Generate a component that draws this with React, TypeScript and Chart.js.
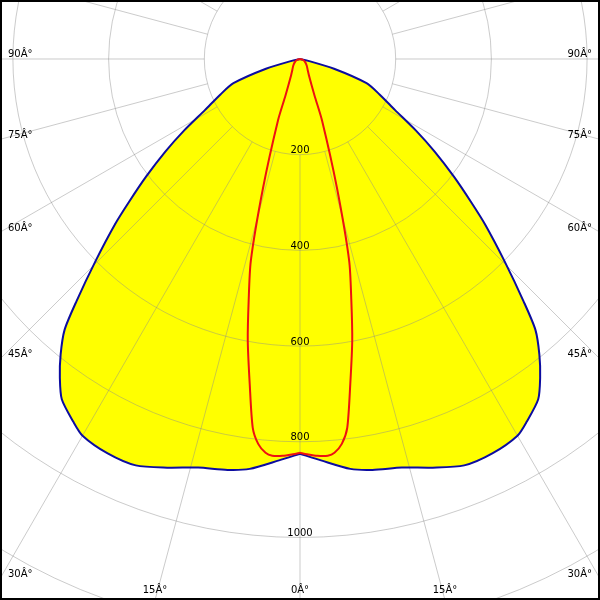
import React, { useEffect, useRef } from "react";
import { Chart, registerables } from "chart.js";

Chart.register(...registerables);

// Photometric data (angle from nadir in degrees, intensity in cd/klm)
const blueAngles = [0, 3, 7, 10, 14, 18, 22, 26, 30, 32, 35, 37, 39, 41, 42.7, 45.3, 48.2, 50.1, 52.6, 55.5, 58.3, 61.8, 66, 70, 74, 78, 80, 90];
const blueValues = [825, 840, 863, 872, 880, 898, 916, 917, 909, 894, 868, 834, 795, 750, 689, 602, 519, 466, 405, 341, 285, 225, 182, 148, 74, 16, 0, 0];

const redAngles = [0, 1, 2.5, 4, 5, 6.2, 7.3, 8.8, 10.5, 12, 13.7, 16, 19.7, 21.7, 28.6, 35, 45, 60, 75, 90];
const redValues = [823, 826, 830, 831, 826, 809, 777, 687, 599, 516, 434, 280, 137, 82, 39, 28, 20, 12, 6, 0];

const ringValues = [200, 400, 600, 800, 1000, 1200, 1400];
const ringLabelValues = [200, 400, 600, 800, 1000];
const spokeAngles = [0, 15, 30, 45, 60, 75, 90, 105, 120, 135, 150, 165, 180, 195, 210, 225, 240, 255, 270, 285, 300, 315, 330, 345];
const sideLabelAngles = [30, 45, 60, 75, 90];
const bottomLabelAngles = [0, 15];
const degreeSuffix = "Â°";

function halfCurve(angles: number[], values: number[], side: number) {
  const pts = angles.map((a, i) => {
    const t = (a * Math.PI) / 180;
    return { x: side * values[i] * Math.sin(t), y: -values[i] * Math.cos(t) };
  });
  return side < 0 ? pts.slice().reverse() : pts;
}

const gridPlugin = {
  id: "polarGrid",
  beforeDatasetsDraw(chart: any) {
    const { ctx, scales } = chart;
    const x = scales.x;
    const y = scales.y;
    const cx = x.getPixelForValue(0);
    const cy = y.getPixelForValue(0);
    const unit = x.getPixelForValue(1) - cx;
    ctx.save();
    ctx.strokeStyle = "rgba(140,140,140,0.45)";
    ctx.lineWidth = 1;
    ringValues.forEach((v) => {
      ctx.beginPath();
      ctx.arc(cx, cy, v * unit, 0, Math.PI * 2);
      ctx.stroke();
    });
    const r0 = ringValues[0] * unit;
    spokeAngles.forEach((a) => {
      const t = (a * Math.PI) / 180;
      const dx = Math.sin(t);
      const dy = Math.cos(t);
      ctx.beginPath();
      ctx.moveTo(cx + dx * r0, cy + dy * r0);
      ctx.lineTo(cx + dx * 1200, cy + dy * 1200);
      ctx.stroke();
    });
    ctx.restore();
  },
  afterDatasetsDraw(chart: any) {
    const { ctx, scales, width, height } = chart;
    const x = scales.x;
    const y = scales.y;
    const cx = x.getPixelForValue(0);
    const cy = y.getPixelForValue(0);
    const unit = x.getPixelForValue(1) - cx;
    ctx.save();
    ctx.fillStyle = "#000";
    ctx.font = '10px "DejaVu Sans"';
    ctx.textBaseline = "alphabetic";
    ctx.textAlign = "center";
    ringLabelValues.forEach((v) => {
      ctx.fillText(String(v), cx, cy + v * unit - 1.5);
    });
    sideLabelAngles.forEach((a) => {
      const t = (a * Math.PI) / 180;
      const ey = a === 90 ? cy : cy + cx / Math.tan(t);
      ctx.textAlign = "left";
      ctx.fillText(a + degreeSuffix, 8, ey - 1.5);
      ctx.textAlign = "right";
      ctx.fillText(a + degreeSuffix, width - 8, ey - 1.5);
    });
    ctx.textAlign = "center";
    bottomLabelAngles.forEach((a) => {
      const t = (a * Math.PI) / 180;
      const off = (height - cy) * Math.tan(t);
      ctx.fillText(a + degreeSuffix, cx - off, height - 7);
      if (a !== 0) ctx.fillText(a + degreeSuffix, cx + off, height - 7);
    });
    ctx.strokeStyle = "#000";
    ctx.lineWidth = 2;
    ctx.strokeRect(1, 1, width - 2, height - 2);
    ctx.restore();
  },
};

export default function App() {
  const canvasRef = useRef<HTMLCanvasElement | null>(null);

  useEffect(() => {
    document.body.style.margin = "0";
    const canvas = canvasRef.current;
    if (!canvas) return;
    const blueStyle = {
      showLine: true,
      pointRadius: 0,
      borderColor: "#0c0ca0",
      borderWidth: 2,
      backgroundColor: "#ffff00",
      fill: "shape",
      tension: 0.25,
    };
    const redStyle = {
      showLine: true,
      pointRadius: 0,
      borderColor: "#ee1111",
      borderWidth: 2,
      fill: false,
      tension: 0.25,
    };
    const chart = new Chart(canvas, {
      type: "scatter",
      data: {
        datasets: [
          { label: "C0-C180 L", data: halfCurve(blueAngles, blueValues, -1), ...blueStyle, order: 4 },
          { label: "C0-C180 R", data: halfCurve(blueAngles, blueValues, 1), ...blueStyle, order: 3 },
          { label: "C90-C270 L", data: halfCurve(redAngles, redValues, -1), ...redStyle, order: 2 },
          { label: "C90-C270 R", data: halfCurve(redAngles, redValues, 1), ...redStyle, order: 1 },
        ] as any,
      },
      options: {
        animation: false,
        responsive: false,
        devicePixelRatio: 1,
        layout: { padding: 0 },
        plugins: {
          legend: { display: false },
          tooltip: { enabled: false },
          filler: { drawTime: "beforeDatasetsDraw" },
        } as any,
        scales: {
          x: { type: "linear", min: -627, max: 627, display: false },
          y: { type: "linear", min: -1130.6, max: 123.3, display: false },
        },
      },
      plugins: [gridPlugin],
    });
    return () => chart.destroy();
  }, []);

  return (
    <div style={{ width: 600, height: 600, background: "#fff" }}>
      <canvas ref={canvasRef} width={600} height={600} style={{ display: "block" }} />
    </div>
  );
}
